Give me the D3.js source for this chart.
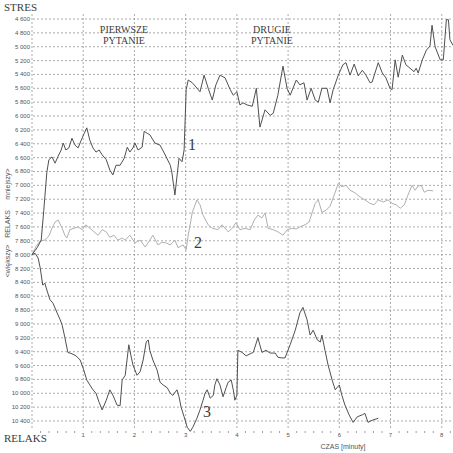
<!DOCTYPE html>
<html>
<head>
<meta charset="utf-8">
<script src="https://cdn.jsdelivr.net/npm/d3@7"></script>
<style>
  html, body { margin: 0; padding: 0; background: #fff; }
  .tick-lab { font-family: "Liberation Sans", Arial, sans-serif; font-size: 6px; fill: #555; }
  .serif { font-family: "Liberation Serif", "Times New Roman", serif; fill: #3c3c3c; }
</style>
</head>
<body>
<div id="chart"></div>
<script>
// minutes / stress-meter readings (lower value = more stress)
var t1 = [0,.10,.18,.23,.29,.33,.39,.45,.51,.57,.61,.66,.72,.78,.84,.90,.96,1.02,1.07,1.13,1.19,1.25,1.31,1.37,1.45,1.52,1.58,1.64,1.72,1.80,1.86,1.91,1.97,2.01,2.07,2.15,2.19,2.25,2.30,2.40,2.50,2.60,2.70,2.73,2.79,2.87,2.93,2.97,3.01,3.05,3.13,3.20,3.28,3.36,3.44,3.52,3.59,3.67,3.77,3.87,3.93,4.00,4.06,4.12,4.20,4.30,4.38,4.45,4.55,4.65,4.71,4.80,4.90,4.98,5.04,5.16,5.23,5.31,5.37,5.45,5.53,5.59,5.66,5.76,5.82,5.88,5.98,6.07,6.13,6.21,6.29,6.37,6.45,6.52,6.60,6.64,6.76,6.84,6.91,6.99,7.03,7.09,7.15,7.23,7.30,7.38,7.46,7.50,7.54,7.62,7.70,7.77,7.81,7.87,7.97,8.03,8.09,8.13,8.16,8.22];
var v1 = [8000,7900,7790,7360,6810,6630,6590,6680,6580,6490,6390,6490,6460,6320,6420,6460,6350,6250,6170,6350,6460,6520,6490,6560,6630,6780,6850,6710,6710,6610,6450,6520,6460,6390,6490,6450,6220,6250,6270,6390,6420,6560,6710,6810,7140,6610,6660,6490,5620,5480,5520,5580,5650,5410,5600,5770,5550,5410,5450,5620,5700,5650,5840,5810,5840,5860,5600,6160,5910,5990,5960,5700,5280,5600,5700,5480,5550,5520,5770,5600,5770,5800,5600,5600,5810,5620,5410,5260,5230,5410,5250,5420,5340,5410,5520,5510,5230,5380,5450,5600,5620,5190,5440,5120,5260,5310,5360,5310,5380,5190,5050,4990,4690,5000,5190,5190,4610,4610,4900,4980];

var t2 = [0,.08,.16,.25,.33,.39,.45,.51,.59,.64,.68,.74,.82,.90,.98,1.05,1.13,1.21,1.29,1.37,1.45,1.52,1.60,1.68,1.76,1.82,1.91,2.01,2.11,2.21,2.30,2.36,2.46,2.54,2.62,2.70,2.79,2.85,2.95,3.01,3.05,3.13,3.22,3.28,3.34,3.44,3.52,3.63,3.71,3.83,3.91,3.98,4.06,4.16,4.26,4.34,4.41,4.49,4.55,4.61,4.71,4.80,4.90,4.98,5.08,5.16,5.23,5.33,5.41,5.47,5.53,5.59,5.66,5.74,5.82,5.90,5.98,6.05,6.13,6.21,6.31,6.41,6.50,6.60,6.68,6.76,6.86,6.95,7.03,7.11,7.19,7.27,7.34,7.42,7.48,7.54,7.60,7.66,7.73,7.83];
var v2 = [8000,7880,7800,7790,7730,7620,7530,7500,7620,7720,7760,7640,7620,7600,7640,7570,7620,7670,7720,7640,7670,7750,7720,7790,7760,7790,7720,7830,7790,7890,7790,7720,7860,7820,7830,7860,7790,7900,7860,7930,7720,7390,7210,7280,7430,7570,7620,7640,7570,7670,7620,7540,7640,7620,7640,7500,7430,7470,7400,7620,7640,7670,7720,7640,7620,7630,7600,7570,7530,7390,7260,7210,7390,7360,7300,7140,6970,7020,7000,7070,7110,7170,7210,7260,7280,7210,7240,7210,7260,7280,7330,7280,7140,7000,7070,7010,7000,7100,7070,7080];

var t3 = [0,.06,.12,.16,.21,.25,.29,.35,.41,.49,.55,.59,.64,.70,.78,.86,.94,1.00,1.07,1.13,1.19,1.25,1.31,1.37,1.45,1.52,1.58,1.66,1.72,1.76,1.82,1.89,1.93,1.97,2.05,2.11,2.17,2.23,2.27,2.30,2.36,2.44,2.50,2.56,2.64,2.70,2.75,2.83,2.87,2.91,2.97,3.03,3.09,3.14,3.22,3.28,3.34,3.38,3.42,3.48,3.54,3.57,3.61,3.67,3.73,3.79,3.83,3.89,3.93,3.96,4.00,4.02,4.10,4.18,4.26,4.32,4.41,4.49,4.57,4.65,4.75,4.80,4.88,4.94,5.04,5.14,5.23,5.29,5.37,5.43,5.49,5.57,5.63,5.66,5.72,5.78,5.86,5.92,6.00,6.05,6.11,6.19,6.27,6.35,6.45,6.50,6.56,6.64,6.76];
var v3 = [8000,7980,8050,8190,8440,8410,8510,8650,8700,8840,8940,9020,9190,9410,9430,9460,9520,9640,9810,9880,9950,10000,10130,10240,10100,9950,10030,10170,10180,9810,9740,9300,9450,9590,9740,9690,9520,9260,9230,9380,9520,9660,9840,9880,9920,10000,10030,9950,10050,10200,10340,10490,10550,10490,10360,10240,10100,10000,9950,10070,10030,9880,9790,9880,10050,9920,9840,9810,9950,10100,10030,9380,9410,9460,9430,9410,9200,9410,9380,9420,9420,9480,9490,9490,9300,9090,8840,8760,8940,9160,9090,9230,9260,9160,9380,9590,9810,9950,9880,10030,10170,10310,10420,10340,10310,10290,10420,10390,10360];

var xTicks = [1, 2, 3, 4, 5, 6, 7, 8];
var yTicks = d3.range(4600, 10401, 200);

var W = 453, H = 453;

var svg = d3.select("#chart").append("svg")
    .attr("width", W).attr("height", H)
    .style("background", "#fff");

var x = d3.scaleLinear().domain([0, 8.2]).range([32, 452]);
var y = d3.scaleLinear().domain([4600, 10400]).range([19, 421]);

var fmt = d3.formatLocale({decimal: ",", thousands: " ", grouping: [3], currency: ["", ""]}).format(",");

// horizontal grid + y labels
var gy = svg.append("g");
gy.selectAll("line").data(yTicks).join("line")
    .attr("x1", 33).attr("x2", W)
    .attr("y1", function (d) { return y(d); }).attr("y2", function (d) { return y(d); })
    .attr("stroke", "#888").attr("stroke-width", 0.7).attr("stroke-dasharray", "2,2");
gy.selectAll("text").data(yTicks).join("text")
    .attr("class", "tick-lab")
    .attr("x", 30).attr("y", function (d) { return y(d) + 2; })
    .attr("text-anchor", "end")
    .text(function (d) { return fmt(d); });

// vertical grid
svg.append("g").selectAll("line").data([0].concat(xTicks)).join("line")
    .attr("x1", function (d) { return x(d); }).attr("x2", function (d) { return x(d); })
    .attr("y1", 14).attr("y2", 429)
    .attr("stroke", "#888").attr("stroke-width", 0.7).attr("stroke-dasharray", "2,2");

// x axis labels + minor ticks (10 s)
svg.append("g").selectAll("text").data(xTicks).join("text")
    .attr("class", "tick-lab")
    .attr("x", function (d) { return x(d); }).attr("y", 437)
    .attr("text-anchor", "middle")
    .text(function (d) { return d; });
var minor = d3.range(0, 8.2, 1 / 6).filter(function (d) { return Math.abs(d - Math.round(d)) > 0.01; });
svg.append("g").selectAll("line").data(minor).join("line")
    .attr("x1", function (d) { return x(d); }).attr("x2", function (d) { return x(d); })
    .attr("y1", 431).attr("y2", 433)
    .attr("stroke", "#777").attr("stroke-width", 0.7);

svg.append("text").attr("class", "tick-lab")
    .attr("x", 343).attr("y", 449).attr("text-anchor", "middle")
    .style("font-size", "7px")
    .text("CZAS [minuty]");

// series
var line = d3.line()
    .x(function (d) { return x(d[0]); })
    .y(function (d) { return y(d[1]); });

function draw(ts, vs, col) {
    svg.append("path")
        .datum(d3.zip(ts, vs))
        .attr("d", line)
        .attr("fill", "none")
        .attr("stroke", col)
        .attr("stroke-width", 1)
        .attr("stroke-linejoin", "round");
}
draw(t2, v2, "#b0b0b0");
draw(t1, v1, "#505050");
draw(t3, v3, "#505050");

// texts
svg.append("text").attr("class", "serif").attr("x", 4).attr("y", 11)
    .style("font-size", "11px").text("STRES");
svg.append("text").attr("class", "serif").attr("x", 4).attr("y", 442)
    .style("font-size", "11px").text("RELAKS");

[["PIERWSZE", 124, 33], ["PYTANIE", 124, 44], ["DRUGIE", 272, 33], ["PYTANIE", 272, 44]].forEach(function (d) {
    svg.append("text").attr("class", "serif")
        .attr("x", d[1]).attr("y", d[2]).attr("text-anchor", "middle")
        .style("font-size", "10px").text(d[0]);
});

[["1", 192, 150], ["2", 198, 248], ["3", 207, 417]].forEach(function (d) {
    svg.append("text").attr("class", "serif")
        .attr("x", d[1]).attr("y", d[2]).attr("text-anchor", "middle")
        .style("font-size", "16px").text(d[0]);
});

[["<większy>", 261], ["RELAKS", 224], ["mniejszy>", 184]].forEach(function (d) {
    svg.append("text").attr("class", "tick-lab")
        .attr("transform", "translate(10," + d[1] + ") rotate(-90)")
        .attr("text-anchor", "middle")
        .style("font-size", "7px").text(d[0]);
});
</script>
</body>
</html>
